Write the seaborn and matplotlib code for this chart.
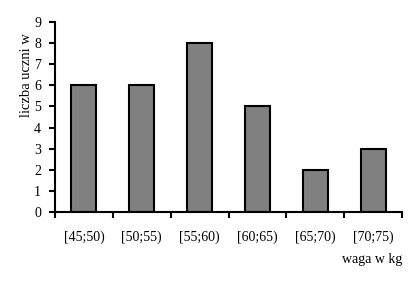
import matplotlib
matplotlib.use("Agg")
import matplotlib.pyplot as plt
import seaborn as sns
import pandas as pd
import numpy as np

categories = ["[45;50)", "[50;55)", "[55;60)", "[60;65)", "[65;70)", "[70;75)"]
counts = [6, 6, 8, 5, 2, 3]
yticks = list(range(0, 10))

sns.set_theme(style="white")
plt.rcParams['font.family'] = ['Liberation Serif', 'DejaVu Serif']

df = pd.DataFrame({"waga": categories, "liczba": counts})

fig = plt.figure(figsize=(4.15, 2.85), dpi=100)
ax = fig.add_axes([55/415, 1-212/285, 347/415, 190/285])

sns.barplot(data=df, x="waga", y="liczba", ax=ax, color="#808080",
            saturation=1, width=0.43, edgecolor="black", linewidth=1.5)

ax.set_xlim(-0.5, 5.5)
ax.set_ylim(0, 9)
ax.set_yticks(yticks)
ax.set_yticklabels([str(t) for t in yticks], fontsize=10)

n = len(categories)
ax.set_xticks(np.arange(-0.5, n, 1.0))
ax.set_xticklabels([])
ax.set_xticks(np.arange(n), minor=True)
ax.set_xticklabels(categories, minor=True, fontsize=10)
ax.tick_params(axis='x', which='major', direction='out', length=4, width=1.5, color='black', bottom=True)
ax.tick_params(axis='x', which='minor', length=0, pad=13, labelcolor='black')
ax.tick_params(axis='y', direction='out', length=4, width=1.5, color='black', left=True, pad=6, labelcolor='black')

for s in ["top", "right"]:
    ax.spines[s].set_visible(False)
for s in ["left", "bottom"]:
    ax.spines[s].set_color("black")
    ax.spines[s].set_linewidth(1.5)

ax.set_xlabel("")
ax.set_ylabel("")
fig.text(26/415, 1-75/285, "liczba uczni w", rotation=90, ha='center', va='center', fontsize=10.5, color='black')
fig.text(402/415, 1-260/285, "waga w kg", ha='right', va='center', fontsize=10, color='black')

fig.savefig("out.png", dpi=100, facecolor="white")
